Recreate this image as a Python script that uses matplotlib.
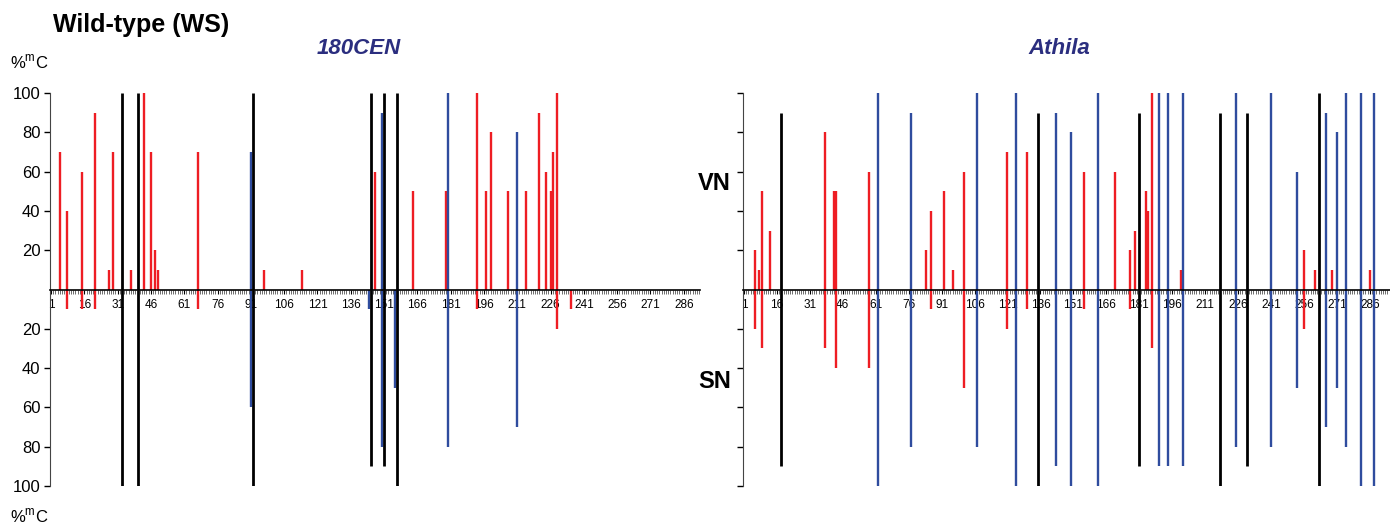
import numpy as np
import matplotlib
matplotlib.use('Agg')
import matplotlib.pyplot as plt

plt.rcParams['font.family'] = ['Liberation Sans', 'DejaVu Sans']
plt.rcParams['mathtext.fontset'] = 'custom'
plt.rcParams['mathtext.rm'] = 'Liberation Sans'

# 180CEN : positions, %mC on the upper (VN) and lower (SN) strand
cen_red_pos = [5, 8, 15, 21, 27, 29, 37, 43, 46, 48, 49, 67, 97, 114, 147, 164, 179,
               193, 197, 199, 207, 215, 221, 224, 226, 227, 229, 235]
cen_red_vn = [70, 40, 60, 90, 10, 70, 10, 100, 70, 20, 10, 70, 10, 10, 60, 50, 50,
              100, 50, 80, 50, 50, 90, 60, 50, 70, 100, 0]
cen_red_sn = [0, 10, 10, 10, 0, 0, 0, 0, 0, 0, 0, 10, 0, 0, 0, 0, 0,
              10, 0, 0, 0, 0, 0, 0, 0, 0, 20, 10]

cen_blue_pos = [91, 144, 150, 156, 180, 211]
cen_blue_vn = [70, 0, 90, 0, 100, 80]
cen_blue_sn = [60, 10, 80, 50, 80, 70]

cen_black_pos = [33, 40, 92, 145, 151, 157]
cen_black_vn = [100, 100, 100, 100, 100, 100]
cen_black_sn = [100, 100, 100, 90, 90, 100]

# Athila
ath_red_pos = [6, 8, 9, 13, 38, 42, 43, 58, 84, 86, 92, 96, 101, 121, 130, 156, 170,
               177, 179, 184, 185, 187, 200, 256, 261, 269, 286]
ath_red_vn = [20, 10, 50, 30, 80, 50, 50, 60, 20, 40, 50, 10, 60, 70, 70, 60, 60,
              20, 30, 50, 40, 100, 10, 20, 10, 10, 10]
ath_red_sn = [20, 0, 30, 0, 30, 0, 40, 40, 0, 10, 0, 0, 50, 20, 10, 10, 0,
              10, 0, 0, 0, 30, 0, 20, 0, 0, 0]

ath_blue_pos = [62, 77, 107, 125, 143, 150, 162, 190, 194, 201, 225, 241, 253, 266,
                271, 275, 282, 288]
ath_blue_vn = [100, 90, 100, 100, 90, 80, 100, 100, 100, 100, 100, 100, 60, 90,
               80, 100, 100, 100]
ath_blue_sn = [100, 80, 80, 100, 90, 100, 100, 90, 90, 90, 80, 80, 50, 70,
               50, 80, 100, 100]

ath_black_pos = [18, 135, 181, 218, 230, 263]
ath_black_vn = [90, 90, 90, 90, 90, 100]
ath_black_sn = [90, 100, 90, 100, 90, 100]

xtick_pos = list(range(1, 287, 15))
ytick_pos = [-100, -80, -60, -40, -20, 20, 40, 60, 80, 100]

RED = '#ee1d23'
BLUE = '#2f4c9e'
NAVY = '#2b2e7f'

W, H = 1390, 528


def barras(ax, pos, vn, sn, color, lw):
    pos = np.array(pos)
    vn = np.array(vn)
    sn = np.array(sn)
    m = vn > 0
    ax.vlines(pos[m], 0, vn[m], colors=color, lw=lw, capstyle='butt')
    m = sn > 0
    ax.vlines(pos[m], -sn[m], 0, colors=color, lw=lw, capstyle='butt')


def panel(ax, red, blue, black, xlim, labels=True):
    barras(ax, *red, RED, 1.7)
    barras(ax, *blue, BLUE, 1.7)
    barras(ax, *black, 'black', 2.0)
    ax.set_xlim(*xlim)
    ax.set_ylim(-100, 100)
    ax.spines['top'].set_visible(False)
    ax.spines['right'].set_visible(False)
    ax.spines['bottom'].set_position(('data', 0))
    ax.spines['bottom'].set_linewidth(1.2)
    ax.spines['bottom'].set_zorder(3)
    ax.spines['left'].set_color('#444444')
    ax.set_xticks(xtick_pos)
    ax.set_xticklabels([str(t) for t in xtick_pos])
    ax.set_xticks(range(1, int(xlim[1]) + 1), minor=True)
    ax.tick_params(axis='x', which='major', direction='out', length=3, width=0.8,
                   labelsize=8.5, pad=4)
    ax.tick_params(axis='x', which='minor', direction='out', length=3, width=0.6,
                   color='#555555')
    ax.set_yticks(ytick_pos)
    if labels:
        ax.set_yticklabels([str(abs(t)) for t in ytick_pos])
    else:
        ax.set_yticklabels([])
    ax.tick_params(axis='y', direction='out', length=4, width=1, labelsize=12, pad=3)


fig = plt.figure(figsize=(W / 100, H / 100), dpi=100)
ax1 = fig.add_axes([50 / W, 42 / H, 650 / W, 393 / H])
ax2 = fig.add_axes([743 / W, 42 / H, 647 / W, 393 / H])
ax1.patch.set_alpha(0)
ax2.patch.set_alpha(0)

panel(ax1, (cen_red_pos, cen_red_vn, cen_red_sn),
      (cen_blue_pos, cen_blue_vn, cen_blue_sn),
      (cen_black_pos, cen_black_vn, cen_black_sn), (0.55, 293.3))
panel(ax2, (ath_red_pos, ath_red_vn, ath_red_sn),
      (ath_blue_pos, ath_blue_vn, ath_blue_sn),
      (ath_black_pos, ath_black_vn, ath_black_sn), (0.545, 295.2), labels=False)


def texto(x, y, s, **kw):
    fig.text(x / W, 1 - y / H, s, **kw)


texto(53, 25, 'Wild-type (WS)', fontsize=18, fontweight='bold', va='center')
texto(359, 48, '180CEN', fontsize=16, fontweight='bold', style='italic',
      color=NAVY, ha='center', va='center')
texto(1059, 48, 'Athila', fontsize=16, fontweight='bold', style='italic',
      color=NAVY, ha='center', va='center')
texto(10, 62, r'%$^\mathregular{m}$C', fontsize=12, va='center')
texto(10, 516, r'%$^\mathregular{m}$C', fontsize=12, va='center')
texto(731, 184, 'VN', fontsize=17, fontweight='bold', ha='right', va='center')
texto(731, 381, 'SN', fontsize=17, fontweight='bold', ha='right', va='center')

fig.savefig('out.png', dpi=100)
